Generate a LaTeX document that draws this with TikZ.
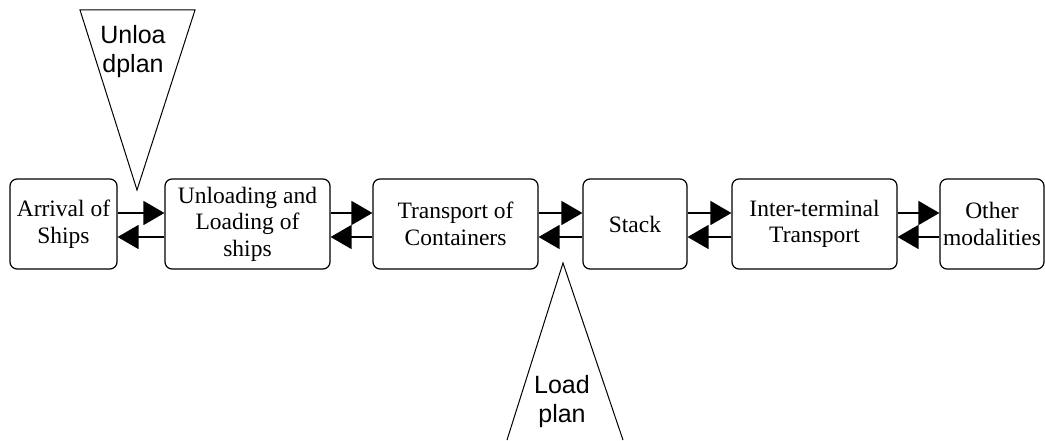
\documentclass[tikz,border=0pt]{standalone}
\usepackage{fontspec}
\setmainfont{Liberation Serif}
\newfontfamily\sansf{Liberation Sans}
\usetikzlibrary{arrows.meta,calc}
\begin{document}
\begin{tikzpicture}[x=1pt,y=1pt,
  box/.style={draw,line width=1.2pt,rounded corners=7pt,inner sep=0pt,align=center,
    font=\fontsize{23.5}{26.5}\selectfont,minimum height=90pt},
  arr/.style={line width=1.6pt,-{Triangle[length=21pt,width=24pt]}},
  tri/.style={line width=1pt},
  lbl/.style={align=center,inner sep=0pt,font=\sansf\fontsize{25}{29}\selectfont}]
\useasboundingbox (0,0) rectangle (1045,440);
\node[box,minimum width=107pt] (arr) at (63.5,216) {Arrival of\\Ships};
\node[box,minimum width=165pt] (unl) at (247.5,216) {Unloading and\\Loading of\\ships};
\node[box,minimum width=165pt] (tra) at (455.5,216) {Transport of\\Containers};
\node[box,minimum width=104pt] (sta) at (635,216) {Stack};
\node[box,minimum width=165pt] (int) at (814.5,216) {Inter-terminal\\Transport};
\node[box,minimum width=104pt] (oth) at (992,216) {Other\\modalities};
\foreach \a/\b in {arr/unl,unl/tra,tra/sta,sta/int,int/oth}{
  \draw[arr] ($(\a.east)+(0,11)$) -- ($(\b.west)+(0,11)$);
  \draw[arr] ($(\b.west)+(0,-13)$) -- ($(\a.east)+(0,-13)$);
}
% unload plan triangle
\coordinate (u1) at (80,430);
\coordinate (u2) at (195,430);
\coordinate (u3) at (137,250);
\draw[tri] (u1) -- (u2) -- (u3) -- cycle;
\node[lbl] (unlp) at (133,388) {Unloa\\dplan};
% load plan triangle
\coordinate (l1) at (507,0);
\coordinate (l2) at (623,0);
\coordinate (l3) at (563,177);
\draw[tri] (l1) -- (l3) -- (l2);
\node[lbl] (ldp) at (562,38) {Load\\plan};
\end{tikzpicture}
\end{document}
